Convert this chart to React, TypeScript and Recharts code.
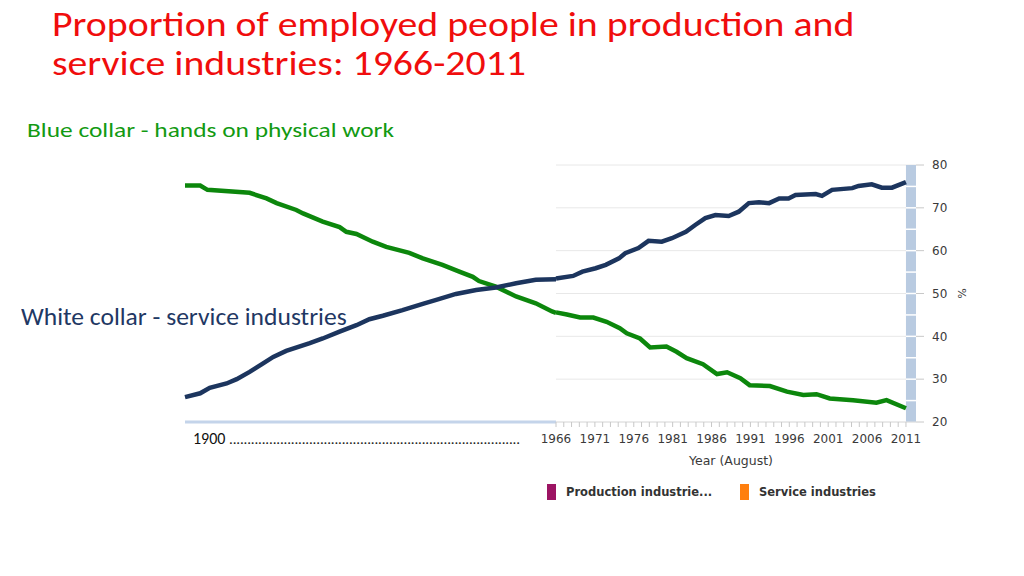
import React from "react";
import {
  LineChart,
  Line,
  XAxis,
  YAxis,
  CartesianGrid,
  ReferenceArea,
  ReferenceLine,
  Legend,
} from "recharts";

// Readings (percent of employed people).
// 1900-1966 is a compressed lead-in, 1966-2011 is the detailed chart.
const blueCollarEarly = [
  { year: 1900, pct: 75.2 }, { year: 1902.7, pct: 75.2 }, { year: 1904, pct: 74.2 },
  { year: 1911.5, pct: 73.5 }, { year: 1914.5, pct: 72.2 }, { year: 1916.3, pct: 71.1 },
  { year: 1919.8, pct: 69.5 }, { year: 1921, pct: 68.7 }, { year: 1924.5, pct: 66.8 },
  { year: 1927.5, pct: 65.5 }, { year: 1928.7, pct: 64.4 }, { year: 1930.5, pct: 63.9 },
  { year: 1933.4, pct: 62.1 }, { year: 1935.8, pct: 60.9 }, { year: 1939.9, pct: 59.5 },
  { year: 1942.3, pct: 58.2 }, { year: 1945.8, pct: 56.7 }, { year: 1948.8, pct: 55.1 },
  { year: 1951.2, pct: 53.9 }, { year: 1952.3, pct: 52.9 }, { year: 1955.3, pct: 51.6 },
  { year: 1958.9, pct: 49.3 }, { year: 1962.4, pct: 47.7 }, { year: 1965.3, pct: 45.8 },
  { year: 1966, pct: 45.5 },
];

const whiteCollarEarly = [
  { year: 1900, pct: 25.8 }, { year: 1902.7, pct: 26.7 }, { year: 1904.4, pct: 28.0 },
  { year: 1907.4, pct: 29.0 }, { year: 1909.2, pct: 30.0 }, { year: 1911.5, pct: 31.7 },
  { year: 1913.9, pct: 33.7 }, { year: 1915.7, pct: 35.2 }, { year: 1918, pct: 36.6 },
  { year: 1922.2, pct: 38.4 }, { year: 1924.5, pct: 39.5 }, { year: 1927.5, pct: 41.1 },
  { year: 1930.5, pct: 42.6 }, { year: 1932.8, pct: 44.0 }, { year: 1935.2, pct: 44.8 },
  { year: 1938.7, pct: 46.1 }, { year: 1942.3, pct: 47.6 }, { year: 1944.7, pct: 48.5 },
  { year: 1948.2, pct: 49.9 }, { year: 1951.8, pct: 50.8 }, { year: 1955.3, pct: 51.4 },
  { year: 1958.9, pct: 52.4 }, { year: 1962.4, pct: 53.2 }, { year: 1966, pct: 53.3 },
];

const blueCollarLate = [
  { year: 1966, pct: 45.6 }, { year: 1967.4, pct: 45.1 }, { year: 1969.1, pct: 44.4 },
  { year: 1970.8, pct: 44.4 }, { year: 1972.5, pct: 43.4 }, { year: 1974.2, pct: 41.9 },
  { year: 1975.1, pct: 40.7 }, { year: 1976.8, pct: 39.5 }, { year: 1978.1, pct: 37.4 },
  { year: 1980.2, pct: 37.6 }, { year: 1981.5, pct: 36.4 }, { year: 1982.8, pct: 34.9 },
  { year: 1984.9, pct: 33.5 }, { year: 1986.7, pct: 31.2 }, { year: 1988, pct: 31.6 },
  { year: 1989.7, pct: 30.2 }, { year: 1990.9, pct: 28.6 }, { year: 1993.5, pct: 28.4 },
  { year: 1995.7, pct: 27.1 }, { year: 1997.8, pct: 26.3 }, { year: 1999.5, pct: 26.5 },
  { year: 2001.2, pct: 25.5 }, { year: 2004.2, pct: 25.1 }, { year: 2007.2, pct: 24.5 },
  { year: 2008.5, pct: 25.1 }, { year: 2011, pct: 23.2 },
];

const whiteCollarLate = [
  { year: 1966, pct: 53.5 }, { year: 1968.2, pct: 54.1 }, { year: 1969.4, pct: 55.1 },
  { year: 1971.1, pct: 55.9 }, { year: 1972.4, pct: 56.7 }, { year: 1974.1, pct: 58.2 },
  { year: 1974.9, pct: 59.4 }, { year: 1976.6, pct: 60.6 }, { year: 1977.9, pct: 62.3 },
  { year: 1979.6, pct: 62.1 }, { year: 1980.9, pct: 62.9 }, { year: 1982.7, pct: 64.4 },
  { year: 1983.9, pct: 66.0 }, { year: 1985.2, pct: 67.6 }, { year: 1986.5, pct: 68.3 },
  { year: 1988.2, pct: 68.1 }, { year: 1989.5, pct: 69.1 }, { year: 1990.8, pct: 71.1 },
  { year: 1992.1, pct: 71.3 }, { year: 1993.4, pct: 71.1 }, { year: 1994.7, pct: 72.2 },
  { year: 1995.9, pct: 72.2 }, { year: 1996.8, pct: 73.0 }, { year: 1999.4, pct: 73.2 },
  { year: 2000.2, pct: 72.8 }, { year: 2001.5, pct: 74.2 }, { year: 2004.1, pct: 74.6 },
  { year: 2004.9, pct: 75.1 }, { year: 2006.6, pct: 75.5 }, { year: 2007.9, pct: 74.7 },
  { year: 2009.2, pct: 74.7 }, { year: 2011, pct: 76.0 },
];

const yearTicks = [
  1966, 1967, 1968, 1969, 1970, 1971, 1972, 1973, 1974, 1975, 1976, 1977, 1978, 1979, 1980,
  1981, 1982, 1983, 1984, 1985, 1986, 1987, 1988, 1989, 1990, 1991, 1992, 1993, 1994, 1995,
  1996, 1997, 1998, 1999, 2000, 2001, 2002, 2003, 2004, 2005, 2006, 2007, 2008, 2009, 2010, 2011,
];
const labelledYears = [1966, 1971, 1976, 1981, 1986, 1991, 1996, 2001, 2006, 2011];
const pctTicks = [20, 30, 40, 50, 60, 70, 80];
const bandStops = [25, 30, 35, 40, 45, 50, 55, 60, 65, 70, 75];

const legendItems = [
  { label: "Production industrie...", color: "#9c1463" },
  { label: "Service industries", color: "#ff7f0e" },
];

const TITLE = ["Proportion of employed people in production and", "service industries: 1966-2011"];
const BLUE_NOTE = "Blue collar - hands on physical work";
const WHITE_NOTE = "White collar - service industries";

const GREEN = "#0c870c";
const NAVY = "#1c355e";
const TICK_FONT = "'DejaVu Sans', Verdana, sans-serif";
const SLIDE_FONT = "Carlito, Lato, 'Open Sans', sans-serif";

function YearTick(props: any) {
  const { x, y, payload } = props;
  if (!labelledYears.includes(payload.value)) return <g />;
  return (
    <text x={x} y={y} dy={14} textAnchor="middle" fill="#3a3a3a" fontSize={12} fontFamily={TICK_FONT}>
      {payload.value}
    </text>
  );
}

function EarlyTick(props: any) {
  const { x, y } = props;
  return (
    <g>
      <text x={x + 8} y={y} dy={14} fill="#111" fontSize={16} fontFamily={SLIDE_FONT}>
        1900
      </text>
      <text x={x + 44} y={y} dy={14} fill="#222" fontSize={15} fontFamily={SLIDE_FONT}
        textLength={291} lengthAdjust="spacing">
        ................................................................................
      </text>
    </g>
  );
}

function LegendContent() {
  return (
    <div style={{ display: "flex", paddingTop: 17, fontFamily: TICK_FONT, fontSize: 11.5, fontWeight: "bold", color: "#333" }}>
      {legendItems.map((item, i) => (
        <div key={item.label} style={{ display: "flex", alignItems: "center", width: i === 0 ? 193 : 160 }}>
          <span style={{ display: "inline-block", width: 9, height: 16, background: item.color, marginRight: 10 }} />
          <span>{item.label}</span>
        </div>
      ))}
    </div>
  );
}

export default function App() {
  return (
    <div style={{ position: "absolute", left: 0, top: 0, width: 1024, height: 576, background: "#fff", overflow: "hidden" }}>
      <div style={{ position: "absolute", left: 52, top: 5, fontFamily: SLIDE_FONT, fontSize: 34, lineHeight: "39px", color: "#f00d0d", whiteSpace: "nowrap", transform: "scaleX(1.17)", transformOrigin: "left top" }}>
        {TITLE.map((t) => (
          <div key={t}>{t}</div>
        ))}
      </div>
      <div style={{ position: "absolute", left: 27, top: 120, fontFamily: SLIDE_FONT, fontSize: 21, lineHeight: 1, color: "#129a12", whiteSpace: "nowrap", transform: "scaleX(1.21)", transformOrigin: "left top" }}>
        {BLUE_NOTE}
      </div>
      <div style={{ position: "absolute", left: 21, top: 305, fontFamily: SLIDE_FONT, fontSize: 24, lineHeight: 1, color: "#1f3864", whiteSpace: "nowrap", transform: "scaleX(1.065)", transformOrigin: "left top" }}>
        {WHITE_NOTE}
      </div>

      {/* 1900-1966 lead-in */}
      <div style={{ position: "absolute", left: 175, top: 155 }}>
        <LineChart width={391} height={307} margin={{ top: 10, right: 10, left: 10, bottom: 0 }}>
          <XAxis
            type="number"
            dataKey="year"
            domain={[1900, 1966]}
            ticks={[1900]}
            interval={0}
            height={40}
            tickLine={false}
            axisLine={{ stroke: "#c4d4ea", strokeWidth: 3 }}
            tick={<EarlyTick />}
          />
          <YAxis hide domain={[20, 80]} />
          <Line data={blueCollarEarly} dataKey="pct" type="linear" stroke={GREEN} strokeWidth={4.5} dot={false} isAnimationActive={false} />
          <Line data={whiteCollarEarly} dataKey="pct" type="linear" stroke={NAVY} strokeWidth={4.5} dot={false} isAnimationActive={false} />
        </LineChart>
      </div>

      {/* 1966-2011 detail */}
      <div style={{ position: "absolute", left: 526, top: 155 }}>
        <LineChart width={460} height={357} margin={{ top: 10, right: 10, left: 30, bottom: 5 }}>
          <CartesianGrid vertical={false} stroke="#e8e8e8" />
          <XAxis
            type="number"
            dataKey="year"
            domain={[1966, 2012.29]}
            ticks={yearTicks}
            interval={0}
            height={45}
            tickSize={5}
            tickLine={{ stroke: "#c8c8c8" }}
            axisLine={{ stroke: "#e0e0e0" }}
            tick={<YearTick />}
            label={{ value: "Year (August)", position: "insideBottom", offset: 2, dx: -5, fill: "#3a3a3a", fontSize: 12.5, fontFamily: TICK_FONT }}
          />
          <YAxis
            orientation="right"
            domain={[20, 80]}
            ticks={pctTicks}
            width={60}
            axisLine={false}
            tickSize={8}
            tickMargin={8}
            tickLine={{ stroke: "#c8c8c8" }}
            tick={{ fill: "#3a3a3a", fontSize: 12, fontFamily: TICK_FONT, textAnchor: "start" }}
            label={{ value: "%", angle: 90, position: "center", dx: 16, fill: "#3a3a3a", fontSize: 11, fontFamily: TICK_FONT }}
          />
          <ReferenceArea x1={2011} x2={2012.29} y1={20} y2={80} fill="#b9cbe1" fillOpacity={1} stroke="none" />
          {bandStops.map((v) => (
            <ReferenceLine key={v} segment={[{ x: 2011, y: v }, { x: 2012.29, y: v }]} stroke="#ffffff" strokeWidth={1.5} />
          ))}
          <Line data={blueCollarLate} dataKey="pct" type="linear" stroke={GREEN} strokeWidth={4.5} dot={false} isAnimationActive={false} />
          <Line data={whiteCollarLate} dataKey="pct" type="linear" stroke={NAVY} strokeWidth={4.5} dot={false} isAnimationActive={false} />
          <Legend verticalAlign="bottom" align="left" height={40} wrapperStyle={{ left: 21 }} content={<LegendContent />} />
        </LineChart>
      </div>
    </div>
  );
}
